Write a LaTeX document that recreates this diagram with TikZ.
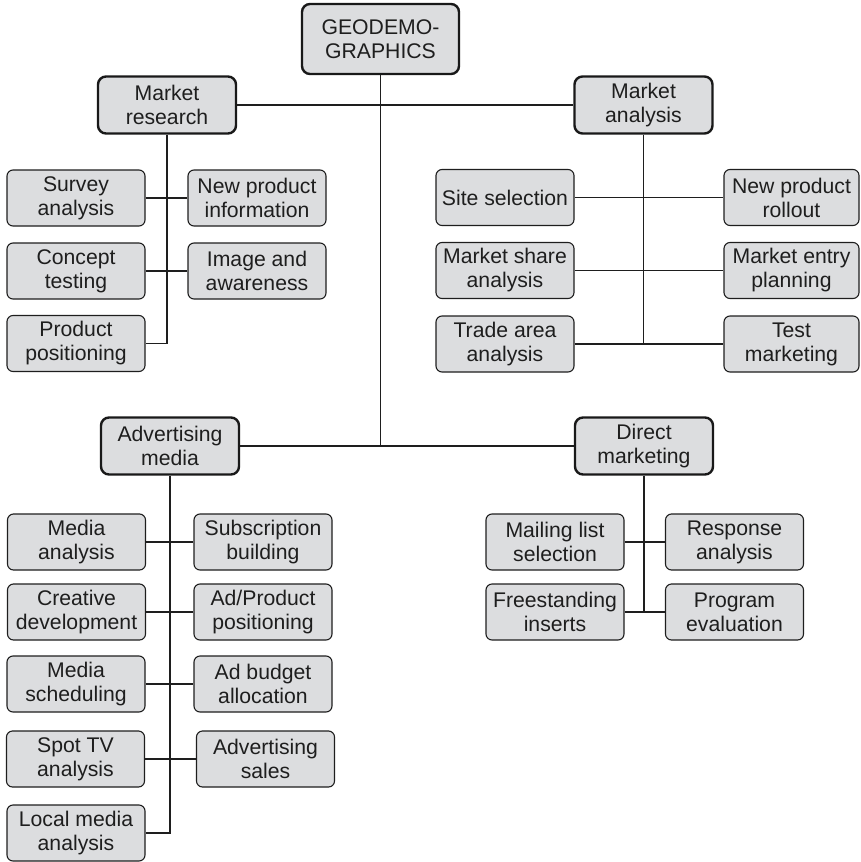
\documentclass[tikz,border=0pt]{standalone}
\usepackage{fontspec}
\setmainfont{Liberation Sans}
\definecolor{boxfill}{RGB}{220,221,223}
\definecolor{ink}{RGB}{30,30,30}
\begin{document}
\begin{tikzpicture}[x=1pt,y=-1pt,
  box/.style={draw=ink, fill=boxfill, rounded corners=6pt, line width=1.1pt,
    minimum width=138pt, minimum height=56pt, inner sep=0pt, align=center,
    text=ink, font=\fontsize{21.2}{24}\selectfont},
  headbox/.style={box, line width=2.4pt, draw=black!90, rounded corners=8pt, minimum height=57pt},
  rootbox/.style={headbox, minimum width=157pt, minimum height=70pt},
  link/.style={draw=ink, line width=1.1pt}]
\useasboundingbox (0,0) rectangle (860,862);

% top level
\node[rootbox] (root) at (380.5,39) {GEODEMO-\\GRAPHICS};
\node[headbox] (mr) at (167,105) {Market\\research};
\node[headbox] (ma) at (643.5,105) {Market\\analysis};
\node[headbox] (am) at (170,446) {Advertising\\media};
\node[headbox] (dm) at (644,446) {Direct\\marketing};

% market research
\node[box] (sa) at (76,198) {Survey\\analysis};
\node[box] (np) at (257,198) {New product\\information};
\node[box] (ct) at (76,271) {Concept\\testing};
\node[box] (ia) at (257,271) {Image and\\awareness};
\node[box] (pp) at (76,343.5) {Product\\positioning};

% market analysis
\node[box] (ss) at (505,197.5) {Site selection};
\node[box, minimum width=135pt] (nr) at (791.5,197.5) {New product\\rollout};
\node[box] (ms) at (505,270.5) {Market share\\analysis};
\node[box, minimum width=135pt] (me) at (791.5,270.5) {Market entry\\planning};
\node[box] (ta) at (505,344) {Trade area\\analysis};
\node[box, minimum width=135pt] (tm) at (791.5,344) {Test\\marketing};

% advertising media
\node[box] (ma1) at (76.5,542) {Media\\analysis};
\node[box] (sb) at (263,542) {Subscription\\building};
\node[box] (cd) at (76.5,612) {Creative\\development};
\node[box] (ap) at (263,612) {Ad/Product\\positioning};
\node[box] (ms2) at (76,684) {Media\\scheduling};
\node[box] (ab) at (263,684) {Ad budget\\allocation};
\node[box] (st) at (75.5,759) {Spot TV\\analysis};
\node[box] (as) at (265.5,759) {Advertising\\sales};
\node[box] (lm) at (76,833) {Local media\\analysis};

% direct marketing
\node[box] (ml) at (555,542) {Mailing list\\selection};
\node[box] (ra) at (734.5,542) {Response\\analysis};
\node[box] (fi) at (555,612) {Freestanding\\inserts};
\node[box] (pe) at (734.5,612) {Program\\evaluation};

% trunk and branches
\draw[link] (root.south) -- (root.south |- am.east);
\draw[link] (mr.east) -- (ma.west);
\draw[link] (am.east) -- (dm.west);

\draw[link] (mr.south) -- (mr.south |- pp.east) -- (pp.east);
\draw[link] (sa.east) -- (np.west);
\draw[link] (ct.east) -- (ia.west);

\draw[link] (ma.south) -- (ma.south |- ta.east);
\draw[link] (ss.east) -- (nr.west);
\draw[link] (ms.east) -- (me.west);
\draw[link] (ta.east) -- (tm.west);

\draw[link] (am.south) -- (am.south |- lm.east) -- (lm.east);
\draw[link] (ma1.east) -- (sb.west);
\draw[link] (cd.east) -- (ap.west);
\draw[link] (ms2.east) -- (ab.west);
\draw[link] (st.east) -- (as.west);

\draw[link] (dm.south) -- (dm.south |- fi.east);
\draw[link] (ml.east) -- (ra.west);
\draw[link] (fi.east) -- (pe.west);
\end{tikzpicture}
\end{document}
